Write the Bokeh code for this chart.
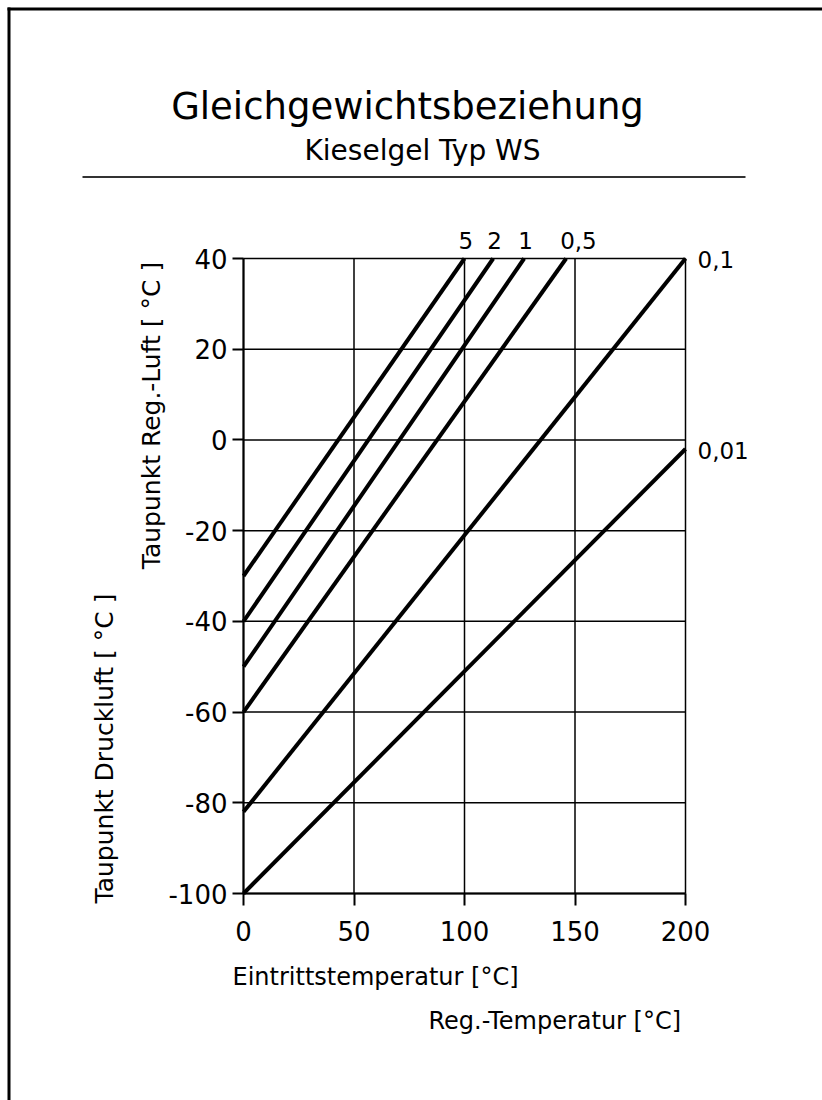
import math
from bokeh.plotting import figure
from bokeh.models import ColumnDataSource, Label, Range1d, FixedTicker, BoxAnnotation
from bokeh.embed import file_html
from bokeh.resources import INLINE

# ---------------- data ----------------
curve_names = ["5", "2", "1", "0,5", "0,1", "0,01"]
x_start = [0, 0, 0, 0, 0, 0]
y_start = [-30, -40, -50, -60, -82, -100]
x_end = [100, 113, 127, 146, 200, 200]
y_end = [40, 40, 40, 40, 40, -2]

x_ticks = [0, 50, 100, 150, 200]
x_tick_labels = ["0", "50", "100", "150", "200"]
y_ticks = [-100, -80, -60, -40, -20, 0, 20, 40]
y_tick_labels = ["-100", "-80", "-60", "-40", "-20", "0", "20", "40"]

title_text = "Gleichgewichtsbeziehung"
subtitle_text = "Kieselgel Typ WS"
x_label_1 = "Eintrittstemperatur [°C]"
x_label_2 = "Reg.-Temperatur [°C]"
y_label_1 = "Taupunkt Reg.-Luft [ °C ]"
y_label_2 = "Taupunkt Druckluft [ °C ]"

FONT = "DejaVu Sans"

# ---------------- layout ----------------
W, H = 822, 1100
BOX_L, BOX_R, BOX_T, BOX_B = 243, 685, 258, 893      # plot box in page pixels
xmin, xmax = x_ticks[0], x_ticks[-1]
ymin, ymax = y_ticks[0], y_ticks[-1]
PX_X = (BOX_R - BOX_L) / (xmax - xmin)
PX_Y = (BOX_B - BOX_T) / (ymax - ymin)

p = figure(width=W, height=H, output_backend="svg", toolbar_location=None,
           x_range=Range1d(xmin - BOX_L / PX_X, xmax + (W - BOX_R) / PX_X),
           y_range=Range1d(ymin - (H - BOX_B) / PX_Y, ymax + BOX_T / PX_Y),
           min_border=0, background_fill_color="white", border_fill_color="white")
p.outline_line_color = None
p.grid.visible = False

# grid lines (bounded to the plot box)
p.segment(x0=x_ticks, y0=[ymin] * len(x_ticks), x1=x_ticks, y1=[ymax] * len(x_ticks),
          line_color="black", line_width=1.5)
p.segment(x0=[xmin] * len(y_ticks), y0=y_ticks, x1=[xmax] * len(y_ticks), y1=y_ticks,
          line_color="black", line_width=1.5)

# curves
src = ColumnDataSource(dict(x0=x_start, y0=y_start, x1=x_end, y1=y_end, name=curve_names))
p.segment("x0", "y0", "x1", "y1", source=src, line_width=4, line_color="black")

# axes at fixed locations
p.xaxis.fixed_location = ymin
p.yaxis.fixed_location = xmin
p.xaxis.bounds = (xmin, xmax)
p.yaxis.bounds = (ymin, ymax)
p.xaxis.ticker = FixedTicker(ticks=x_ticks)
p.yaxis.ticker = FixedTicker(ticks=y_ticks)
p.xaxis.major_label_overrides = dict(zip(x_ticks, x_tick_labels))
p.yaxis.major_label_overrides = dict(zip(y_ticks, y_tick_labels))
for ax in (p.xaxis[0], p.yaxis[0]):
    ax.axis_line_width = 2
    ax.axis_line_color = "black"
    ax.major_tick_line_width = 2
    ax.major_tick_line_color = "black"
    ax.major_tick_in = 0
    ax.minor_tick_line_color = None
    ax.major_label_text_font = FONT
    ax.major_label_text_font_size = "26px"
    ax.major_label_text_color = "black"
p.xaxis.major_tick_out = 12
p.xaxis.major_label_standoff = 15
p.yaxis.major_tick_out = 11
p.yaxis.major_label_standoff = 5

# curve labels
top_style = dict(text_align="left", text_baseline="alphabetic", x_offset=-6, y_offset=18)
right_style = dict(text_align="left", text_baseline="middle", x_offset=12, y_offset=-1)
for n, xe, ye in zip(curve_names, x_end, y_end):
    st = right_style if xe >= xmax else top_style
    p.add_layout(Label(x=xe, y=ye, text=n, text_font=FONT, text_font_size="23px",
                       text_color="black", **st))


def slabel(text, px, py, size, align="left", angle=0.0):
    """text anchored at page pixel (px, py)"""
    p.add_layout(Label(x=px, y=H - py, x_units="screen", y_units="screen", text=text,
                       text_font=FONT, text_font_size=size, text_color="black",
                       text_align=align, text_baseline="alphabetic", angle=angle))


def sbox(l, r, t, b, color):
    p.add_layout(BoxAnnotation(left=l, right=r, top=H - t, bottom=H - b,
                               left_units="screen", right_units="screen",
                               top_units="screen", bottom_units="screen",
                               fill_color=color, fill_alpha=1, line_color=None))


slabel(title_text, 407, 106, "37px", "center")
slabel(subtitle_text, 422, 150, "28px", "center")
sbox(82, 745, 175.5, 177.5, "#333333")

slabel(x_label_1, 232, 976, "24px")
slabel(x_label_2, 428, 1020, "24px")
slabel(y_label_1, 151, 415, "25px", "center", math.pi / 2)
slabel(y_label_2, 104, 748, "25px", "center", math.pi / 2)

# page box edges (left and top)
sbox(7, 10, 7, H, "black")
sbox(7, W, 7, 10, "black")

open("out.html", "w").write(file_html(p, INLINE))
